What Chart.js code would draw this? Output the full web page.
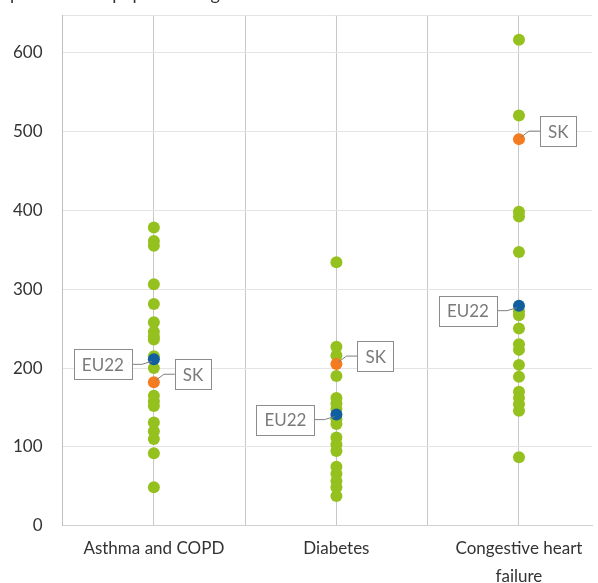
<!DOCTYPE html>
<html lang="en">
<head>
    <meta charset="UTF-8">
    <title>Hospital admissions</title>
    <script src="https://cdn.jsdelivr.net/npm/chart.js"></script>
    <style>
        html, body {
            margin: 0;
            padding: 0;
            background: white;
            overflow: hidden;
        }
        .wrap {
            position: relative;
            top: -15px;
            width: 598px;
            height: 615px;
        }
        .note {
            position: absolute;
            left: 10px;
            top: -16px;
            font-family: Lato, sans-serif;
            font-size: 18px;
            line-height: 18px;
            color: #333;
            white-space: nowrap;
            z-index: 1;
        }
    </style>
</head>
<body>
    <div class="note">per 100 000 population aged 15+</div>
    <div class="wrap">
        <canvas id="chart"></canvas>
    </div>

    <script>
        // values
        const categories = ['Asthma and COPD', 'Diabetes', 'Congestive heart failure'];
        const otherCountries = [
            [378, 361, 355, 306, 281, 258, 246, 240, 236, 215, 200, 165, 158, 152, 131, 120, 110, 92, 49],
            [334, 227, 216, 190, 162, 155, 148, 135, 129, 112, 103, 95, 75, 66, 57, 49, 38],
            [616, 520, 398, 392, 347, 272, 267, 250, 230, 223, 204, 189, 170, 162, 154, 146, 87]
        ];
        const eu22 = [211, 141, 279];
        const sk = [182, 205, 490];
        const yTicks = [0, 100, 200, 300, 400, 500, 600];

        const FONT = 'Lato, sans-serif';

        function toPoints(values) {
            return values.map((v, i) => ({ x: i, y: v }));
        }

        function wrap(label) {
            if (label.length <= 16) return label;
            const cut = label.lastIndexOf(' ', 16);
            return [label.slice(0, cut), label.slice(cut + 1)];
        }

        // boxed labels with a small leader line
        const callouts = {
            id: 'callouts',
            afterDatasetsDraw(chart) {
                const ctx = chart.ctx;
                chart.data.datasets.forEach((ds, di) => {
                    if (!ds.callout) return;
                    const meta = chart.getDatasetMeta(di);
                    meta.data.forEach(pt => {
                        const px = pt.x, py = pt.y;
                        ctx.save();
                        ctx.font = '17px ' + FONT;
                        const w = ctx.measureText(ds.label).width + 16;
                        const h = 30;
                        let bx, cy, ex, lx;
                        if (ds.callout === 'left') {
                            bx = px - 22 - w;
                            cy = py + 5;
                            ex = px - 22;
                            lx = ex + 10;
                        } else {
                            bx = px + 21;
                            cy = py - 8;
                            ex = bx;
                            lx = ex - 11;
                        }
                        ctx.strokeStyle = '#7f7f7f';
                        ctx.lineWidth = 1;
                        ctx.beginPath();
                        ctx.moveTo(ex, cy);
                        ctx.lineTo(lx, cy);
                        ctx.lineTo(px + (lx < px ? -2 : 2), py + (cy < py ? -2 : 2));
                        ctx.stroke();
                        ctx.fillStyle = 'white';
                        ctx.fillRect(bx, cy - h / 2, w, h);
                        ctx.strokeStyle = '#8c8c8c';
                        ctx.strokeRect(Math.round(bx) + 0.5, Math.round(cy - h / 2) + 0.5, Math.round(w), h);
                        ctx.fillStyle = '#7a7a7a';
                        ctx.textAlign = 'center';
                        ctx.textBaseline = 'middle';
                        ctx.fillText(ds.label, bx + w / 2, cy + 1);
                        ctx.restore();
                    });
                });
            }
        };

        const greenPoints = [];
        otherCountries.forEach((list, i) => list.forEach(v => greenPoints.push({ x: i, y: v })));

        new Chart(document.getElementById('chart').getContext('2d'), {
            type: 'scatter',
            data: {
                datasets: [
                    {
                        label: 'SK',
                        data: toPoints(sk),
                        backgroundColor: '#f47b20',
                        callout: 'right'
                    },
                    {
                        label: 'EU22',
                        data: toPoints(eu22),
                        backgroundColor: '#115f9e',
                        callout: 'left'
                    },
                    {
                        label: 'Countries',
                        data: greenPoints,
                        backgroundColor: '#95c11f'
                    }
                ]
            },
            options: {
                responsive: true,
                maintainAspectRatio: false,
                animation: false,
                elements: {
                    point: { radius: 6, borderWidth: 0, hoverRadius: 6 }
                },
                layout: { padding: { left: -7, top: 0, right: 0, bottom: 0 } },
                plugins: {
                    legend: { display: false },
                    tooltip: { enabled: false }
                },
                scales: {
                    x: {
                        type: 'linear',
                        min: -0.5,
                        max: 2.40,
                        afterBuildTicks: scale => {
                            scale.ticks = [-0.5, 0, 0.5, 1, 1.5, 2].map(v => ({ value: v }));
                        },
                        grid: { color: '#c8c8c8', drawTicks: false },
                        border: { color: '#d0d0d0' },
                        ticks: {
                            autoSkip: false,
                            maxRotation: 0,
                            padding: 9,
                            color: '#333',
                            font: { family: FONT, size: 17, lineHeight: 1.65 },
                            callback: v => Number.isInteger(v) ? wrap(categories[v]) : ''
                        }
                    },
                    y: {
                        min: 0,
                        max: 647,
                        afterBuildTicks: scale => {
                            scale.ticks = yTicks.concat(647).map(v => ({ value: v }));
                        },
                        grid: { color: '#e4e4e4', drawTicks: false },
                        border: { color: '#c0c0c0' },
                        ticks: {
                            padding: 20,
                            color: '#333',
                            font: { family: FONT, size: 17 },
                            callback: v => yTicks.includes(v) ? v : ''
                        }
                    }
                }
            },
            plugins: [callouts]
        });
    </script>
</body>
</html>
